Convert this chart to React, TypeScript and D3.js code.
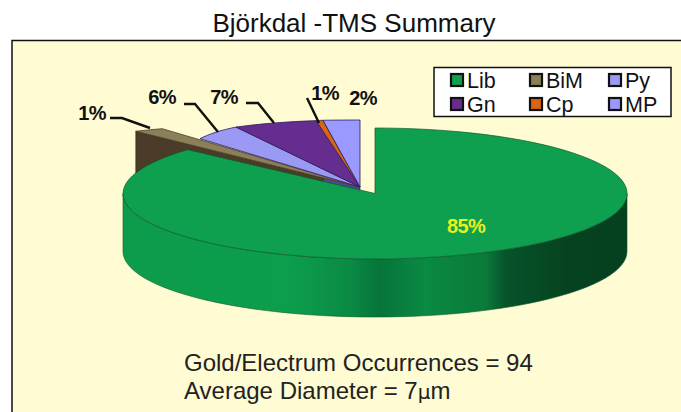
import React from "react";
import * as d3 from "d3";

const title = "Björkdal -TMS Summary";
const categories = ["Lib", "BiM", "Py", "Gn", "Cp", "MP"];
const percents = [85, 1, 6, 7, 1, 2];
const colors = ["#0fa04f", "#8c8058", "#9a9af5", "#662d91", "#d9660f", "#9999ff"];
const noteLines = ["Gold/Electrum Occurrences = 94", "Average Diameter = 7"];

// page layout
const W = 681;
const H = 412;
const cx = 375;
const cy = 193.5;
const rx = 252;
const ry = 65.5;
const depth = 58;
const apexX = 360;
const apexY = 187;
const frontSweepGain = 1.04; // the tilted drawing stretches the big slice a bit

// how each pulled out slice is fanned on the flat back rim, by category index
const rimSpread = [0, 812, 141, 203, 115, 301];
const rimShift = [0, 479, -42.5, -6.7, -22.9, 0];
const rimLift = [0, -10, 0, 0, 0, 0];
const backHeight = 67;
const backCurve = 0.55;

const labelAnchors: [number, number][] = [
  [466, 233],
  [92, 120],
  [162, 104],
  [224, 104],
  [325, 100],
  [363, 105],
];
const leaders: ([number, number][] | null)[] = [
  null,
  [[110, 118], [122, 118], [150, 128]],
  [[184, 104], [195, 104], [218, 132]],
  [[246, 103], [258, 103], [274, 123]],
  [[307, 98], [319, 123]],
  null,
];

const wallStops: [number, string][] = [
  [0, "#0c9c4c"],
  [0.33, "#0d9e4d"],
  [0.45, "#0a8a44"],
  [0.51, "#07743a"],
  [0.6, "#0a8a42"],
  [0.72, "#0a7a3a"],
  [0.76, "#06532a"],
  [0.88, "#05431f"],
  [1, "#05401f"],
];

const slices = d3.pie<number>().sort(null).value((d) => d)(percents);

const unitArc = d3.arc<any>().innerRadius(0).outerRadius(1);
const line = d3.line();

const rimPoint = (i: number, angle: number): [number, number] => {
  const back = 2 * Math.PI - angle;
  return [
    apexX - rimSpread[i] * Math.sin(back) + rimShift[i],
    apexY - backHeight * Math.pow(Math.cos(back), backCurve) + rimLift[i],
  ];
};

const wedgePath = (i: number) => {
  const s = slices[i];
  const rim = d3
    .range(9)
    .map((k) => rimPoint(i, s.startAngle + ((s.endAngle - s.startAngle) * k) / 8));
  return line([[apexX, apexY], ...rim]) + "Z";
};

const bimWall = () => {
  const far = rimPoint(1, slices[1].startAngle);
  return line([
    far,
    [apexX, apexY],
    [apexX, apexY + depth],
    [far[0], far[1] + depth],
  ]) + "Z";
};

const frontWall = () => {
  const angles = d3.range(0, 61).map((k) => Math.PI / 2 + (Math.PI * k) / 60);
  const top = angles.map((a): [number, number] => [cx + rx * Math.sin(a), cy - ry * Math.cos(a)]);
  const bottom = top.map(([x, y]): [number, number] => [x, y + depth]).reverse();
  return line([...top, ...bottom]) + "Z";
};

const legendX = d3.scaleBand<number>().domain([0, 1, 2]).range([440, 677]);
const legendY = d3.scaleBand<number>().domain([0, 1]).range([68, 116]);

export default function App() {
  const sans = "'Liberation Sans', Arial, sans-serif";
  return (
    <svg
      width={W}
      height={H}
      style={{ position: "absolute", left: 0, top: 0, background: "#fff" }}
      fontFamily={sans}
    >
      <defs>
        <linearGradient id="frontWall" x1="0" x2="1" y1="0" y2="0">
          {wallStops.map(([o, c]) => (
            <stop key={o} offset={o} stopColor={c} />
          ))}
        </linearGradient>
        <linearGradient id="backWall" x1="0" x2="1" y1="0" y2="0">
          <stop offset="0" stopColor="#4a3c28" />
          <stop offset="0.84" stopColor="#4a3c28" />
          <stop offset="0.84" stopColor="#4a4a90" />
          <stop offset="1" stopColor="#4a4a90" />
        </linearGradient>
      </defs>

      <text x={354} y={32} textAnchor="middle" fontSize={26} fill="#111">
        {title}
      </text>
      <rect x={12} y={40.5} width={700} height={400} fill="#fffbd2" stroke="#111" strokeWidth={1.5} />

      <path d={bimWall()} fill="url(#backWall)" stroke="#2a2218" strokeWidth={0.6} />
      {[1, 2, 3, 4, 5].map((i) => (
        <path
          key={categories[i]}
          d={wedgePath(i)}
          fill={colors[i]}
          stroke={i === 1 ? "#4a3c28" : "#2b1b5c"}
          strokeWidth={0.8}
          strokeLinejoin="round"
        />
      ))}

      <path d={frontWall()} fill="url(#frontWall)" stroke="#0a5a2c" strokeWidth={0.6} />
      <path
        d={
          unitArc({
            startAngle: slices[0].startAngle,
            endAngle: slices[0].startAngle + (slices[0].endAngle - slices[0].startAngle) * frontSweepGain,
          }) as string
        }
        transform={`translate(${cx},${cy}) scale(${rx},${ry})`}
        fill={colors[0]}
        stroke="#0a5a2c"
        strokeWidth={0.7}
        vectorEffect="non-scaling-stroke"
      />

      {leaders.map((pts, i) =>
        pts ? (
          <path key={i} d={line(pts) as string} fill="none" stroke="#111" strokeWidth={2.4} />
        ) : null
      )}
      {percents.map((p, i) => (
        <text
          key={i}
          x={labelAnchors[i][0]}
          y={labelAnchors[i][1]}
          textAnchor="middle"
          fontSize={20}
          fontWeight="bold"
          fill={i === 0 ? "#e8f01e" : "#111"}
          letterSpacing={-0.6}
        >
          {p}%
        </text>
      ))}

      <rect x={434} y={67.5} width={237} height={49} fill="#fff" stroke="#111" strokeWidth={1.5} />
      {categories.map((c, i) => {
        const col = i % 3;
        const row = Math.floor(i / 3);
        const x = legendX(col) as number;
        const y = (legendY(row) as number) + legendY.bandwidth() / 2;
        return (
          <g key={c}>
            <rect x={x + 11} y={y - 6} width={12} height={12} fill={colors[i]} stroke="#111" strokeWidth={2.2} />
            <text x={x + 27} y={y + 8} fontSize={21.5} fill="#111">
              {c}
            </text>
          </g>
        );
      })}

      <text x={184} y={371} fontSize={24} fill="#222">
        {noteLines[0]}
      </text>
      <text x={184} y={399} fontSize={24} fill="#222">
        {noteLines[1]}
        <tspan fontFamily="'DejaVu Sans'" fontSize={20}>μ</tspan>m
      </text>
    </svg>
  );
}
